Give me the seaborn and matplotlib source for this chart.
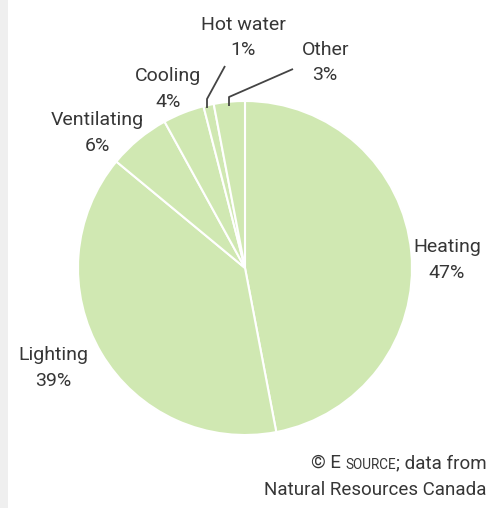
import matplotlib
matplotlib.use("Agg")
import matplotlib.pyplot as plt
from matplotlib.patches import Rectangle
import seaborn as sns

# Energy end-use shares (%)
categories = ["Heating", "Lighting", "Ventilating", "Cooling", "Hot water", "Other"]
shares = [47, 39, 6, 4, 1, 3]

sns.set_theme(style="white")
plt.rcParams["font.family"] = ["Roboto", "DejaVu Sans"]

W, H = 491, 508
fig = plt.figure(figsize=(W / 100, H / 100), dpi=100)
fig.patch.set_facecolor("white")

# light grey strip along the left edge
fig.patches.append(Rectangle((0, 0), 8 / W, 1, transform=fig.transFigure,
                             facecolor="#efefef", edgecolor="none", zorder=0))

# pie axes: centre (245, 268) px from top-left, radius 167 px
cx, cy, r = 245, 268, 167
ax = fig.add_axes([(cx - r) / W, (H - cy - r) / H, 2 * r / W, 2 * r / H])

green = "#d0e8b2"
ax.pie(shares, colors=[green] * len(shares), startangle=90, counterclock=False,
       radius=1, wedgeprops=dict(edgecolor="white", linewidth=1.5))
ax.set_xlim(-1, 1)
ax.set_ylim(-1, 1)
ax.set_aspect("equal")
ax.axis("off")

txt_color = "#363636"
label_pos = {
    "Heating": (1.21, 0.05),
    "Lighting": (-1.15, -0.60),
    "Ventilating": (-0.886, 0.81),
    "Cooling": (-0.46, 1.07),
    "Hot water": (-0.012, 1.38),
    "Other": (0.48, 1.23),
}
for name, val in zip(categories, shares):
    x, y = label_pos[name]
    ax.text(x, y, f"{name}\n{val}%", ha="center", va="center", fontsize=14,
            color=txt_color, linespacing=1.55, clip_on=False)


def px(p):
    return ((p[0] - cx) / r, (cy - p[1]) / r)


# leader lines for the two thin slices
for pts in ([(225, 66), (207, 99), (207, 108)],
            [(293, 69), (229, 97), (229, 106)]):
    d = [px(p) for p in pts]
    ax.plot([q[0] for q in d], [q[1] for q in d], color="#444444", lw=1.3,
            clip_on=False, solid_capstyle="butt")

# source credit, right-aligned, with small caps for "SOURCE"
fs = 13.5
t1 = fig.text(487 / W, 1 - 463 / H, "; data from", ha="right", va="center",
              fontsize=fs, color=txt_color)
t2 = plt.annotate("SOURCE", xy=(0, 0), xycoords=t1, ha="right", va="bottom",
                  fontsize=fs * 0.72, color=txt_color)
t3 = plt.annotate("\u00a9 E ", xy=(0, 0), xycoords=t2, ha="right", va="bottom",
                  fontsize=fs, color=txt_color)
fig.text(487 / W, 1 - 490 / H, "Natural Resources Canada", ha="right",
         va="center", fontsize=fs, color=txt_color)

fig.savefig("out.png", dpi=100)
